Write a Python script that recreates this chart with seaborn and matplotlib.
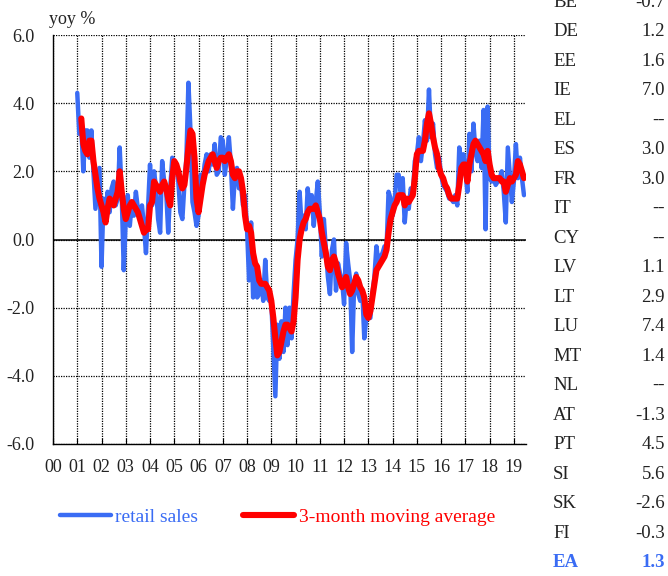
import numpy as np
import pandas as pd
import matplotlib
matplotlib.use("Agg")
import matplotlib.pyplot as plt
import seaborn as sns

# monthly retail sales, yoy %, Jan 2001 - Jun 2019
retail_sales = [
    4.3, 3.1, 3.3, 2.0, 3.2, 3.2, 2.4, 3.2, 2.0, 0.9, 1.5, 2.1,          # 2001
    -0.8, 1.2, 0.5, 1.4, 0.8, 1.5, 1.7, 1.0, 1.2, 2.7, 1.3, -0.9,        # 2002
    0.6, 1.3, 0.4, 1.1, 0.7, 1.4, 0.9, 0.6, 1.0, 0.4, -0.4, 0.9,         # 2003
    2.2, 1.0, 2.0, 1.5, 0.6, 0.2, 2.3, 1.7, 1.4, 0.2, 1.5, 2.4,          # 2004
    2.3, 2.2, 1.7, 0.8, 0.6, 1.6, 2.4, 4.6, 3.2, 1.1, 0.8, 0.4,          # 2005
    0.7, 1.9, 1.6, 2.2, 2.5, 2.0, 2.5, 2.2, 2.8, 1.9, 2.0, 3.0,          # 2006
    2.9, 1.9, 2.4, 3.0, 2.2, 0.9, 1.9, 2.1, 1.5, 1.6, 1.0, 1.3,          # 2007
    0.3, -1.2, 0.5, -1.7, -0.9, -1.7, -1.6, -1.2, -1.8, -0.6, -1.7, -1.8,  # 2008
    -1.8, -3.2, -4.6, -2.5, -3.5, -2.4, -3.3, -2.0, -3.1, -2.0, -2.9, -1.6,  # 2009
    -0.6, 0.0, 1.4, 0.4, 0.7, 0.3, 1.5, 0.9, 1.3, 0.4, 1.1, 1.7,         # 2010
    0.8, -0.5, 0.6, -0.3, -1.1, -1.6, -0.3, 0.0, -1.5, -0.7, -1.0, -1.2,  # 2011
    -1.9, -0.1, -0.7, -1.2, -3.3, -1.3, -1.0, -1.6, -1.8, -1.5, -2.9, -2.3,  # 2012
    -2.3, -2.3, -1.6, -1.1, -0.2, -0.7, -0.5, -0.4, -0.2, -0.3, 1.4, 1.2,  # 2013
    0.7, 1.1, 1.9, 1.9, 1.4, 1.8, 0.5, 1.2, 0.9, 1.5, 1.3, 2.3,          # 2014
    2.5, 3.0, 2.3, 2.8, 3.5, 2.9, 4.4, 3.0, 3.4, 2.5, 2.1, 2.4,          # 2015
    1.9, 1.6, 1.5, 1.4, 1.2, 1.2, 1.1, 1.3, 1.0, 2.7, 2.2, 2.5,          # 2016
    2.0, 1.4, 3.1, 2.0, 3.4, 2.6, 2.3, 2.9, 2.1, 3.8, 0.3, 3.9,          # 2017
    1.8, 1.7, 1.8, 1.6, 1.7, 1.8, 2.0, 1.4, 0.5, 2.7, 1.9, 1.1,          # 2018
    1.7, 2.8, 1.8, 2.4, 1.8, 1.3,                                        # 2019
]

# 3-month moving average, Mar 2001 - Jun 2019
moving_avg = [
    3.55, 2.8, 2.6, 2.5, 2.9, 2.9, 2.3, 1.9, 1.5, 1.2,                   # 2001
    1.0, 0.8, 0.5, 0.9, 1.2, 1.1, 1.0, 1.2, 1.4, 2.0, 1.4, 0.9,          # 2002
    0.6, 0.8, 1.0, 1.1, 1.0, 0.9, 0.8, 0.6, 0.4, 0.2, 0.3, 0.3,          # 2003
    1.0, 1.1, 1.7, 1.6, 1.5, 1.4, 1.6, 1.7, 1.5, 1.2, 1.0, 1.8,          # 2004
    2.3, 2.2, 2.0, 1.7, 1.5, 1.6, 2.1, 2.7, 3.2, 3.1, 2.4, 1.2,          # 2005
    0.8, 1.2, 1.6, 1.9, 2.1, 2.3, 2.4, 2.5, 2.3, 2.1, 2.3, 2.4,          # 2006
    2.4, 2.3, 2.4, 2.5, 2.3, 1.9, 1.8, 2.0, 2.0, 1.8, 1.4, 0.7,          # 2007
    0.3, 0.4, 0.2, -0.4, -0.7, -0.8, -1.2, -1.3, -1.3, -1.3, -1.4, -1.5,  # 2008
    -1.8, -2.3, -2.9, -3.4, -3.3, -3.0, -2.7, -2.5, -2.5, -2.6, -2.7, -2.4,  # 2009
    -1.7, -0.6, 0.0, 0.3, 0.5, 0.6, 0.8, 0.9, 0.9, 0.9, 1.0, 0.8,        # 2010
    0.6, 0.2, -0.1, -0.4, -0.8, -0.9, -0.6, -0.5, -0.7, -1.0, -1.2, -1.4,  # 2011
    -1.3, -1.1, -1.4, -1.6, -1.5, -1.3, -1.1, -1.2, -1.4, -1.5, -1.7, -2.2,  # 2012
    -2.3, -2.1, -1.7, -1.3, -0.9, -0.8, -0.7, -0.6, -0.5, -0.3, 0.2, 0.6,  # 2013
    0.8, 1.0, 1.1, 1.3, 1.3, 1.3, 1.0, 1.2, 1.1, 1.2, 1.3, 1.8,          # 2014
    2.5, 2.6, 2.6, 2.6, 2.9, 3.4, 3.7, 3.4, 3.0, 2.7, 2.5, 2.1,          # 2015
    1.9, 1.8, 1.6, 1.5, 1.3, 1.2, 1.2, 1.2, 1.2, 1.6, 2.1, 2.2,          # 2016
    2.2, 1.7, 2.2, 2.5, 2.8, 2.9, 2.8, 2.7, 2.6, 2.5, 2.3, 2.6,          # 2017
    2.2, 1.9, 1.8, 1.8, 1.8, 1.8, 1.7, 1.7, 1.4, 1.6, 1.8, 1.7,          # 2018
    1.8, 1.9, 2.3, 2.2, 2.0, 1.8,                                        # 2019
]

countries = ["BE", "DE", "EE", "IE", "EL", "ES", "FR", "IT", "CY", "LV",
             "LT", "LU", "MT", "NL", "AT", "PT", "SI", "SK", "FI", "EA"]
latest = ["-0.7", "1.2", "1.6", "7.0", "--", "3.0", "3.0", "--", "--", "1.1",
          "2.9", "7.4", "1.4", "--", "-1.3", "4.5", "5.6", "-2.6", "-0.3", "1.3"]

year_labels = ["%02d" % y for y in range(0, 20)]

BLUE = "#3a6cf4"
RED = "#ff0000"
TXT = "#222222"

dates_rs = pd.date_range("2001-01-01", periods=len(retail_sales), freq="MS")
dates_ma = pd.date_range("2001-03-01", periods=len(moving_avg), freq="MS")
df_rs = pd.DataFrame({"t": dates_rs.year + (dates_rs.month - 1) / 12, "v": retail_sales})
df_ma = pd.DataFrame({"t": dates_ma.year + (dates_ma.month - 1) / 12, "v": moving_avg})

sns.set_style("white")
plt.rcParams["font.family"] = ["Liberation Serif", "DejaVu Serif"]
plt.rcParams["axes.unicode_minus"] = False

fig = plt.figure(figsize=(6.68, 5.76), dpi=100)
ax = fig.add_axes([53 / 668, 132 / 576, 473 / 668, 409 / 576])

sns.lineplot(data=df_rs, x="t", y="v", ax=ax, color=BLUE, lw=3.2,
             label="retail sales", solid_capstyle="round")
sns.lineplot(data=df_ma, x="t", y="v", ax=ax, color=RED, lw=4.4,
             label="3-month moving average", solid_capstyle="round")

ax.set_xlim(2000, 2019.5)
ax.set_ylim(-6, 6)
ax.set_xticks(range(2000, 2020))
ax.set_xticklabels(year_labels)
ax.set_yticks(np.arange(-6, 7, 2))
ax.set_yticklabels(["%.1f" % v for v in np.arange(-6, 7, 2)])
ax.set_xlabel("")
ax.set_ylabel("")

ax.grid(True, linestyle=(0, (1, 1)), color="black", lw=0.9)
ax.axhline(0, color="black", lw=1.1, zorder=1.5)
ax.set_axisbelow(True)

for s in ["top", "right"]:
    ax.spines[s].set_visible(False)
ax.spines["left"].set_color("black")
ax.spines["left"].set_linewidth(1.0)
ax.spines["bottom"].set_color("black")
ax.spines["bottom"].set_linewidth(1.0)
ax.spines["bottom"].set_linestyle((0, (1, 1)))

ax.tick_params(axis="x", direction="in", length=4, width=0.8, color="black",
               pad=11, labelsize=13, labelcolor=TXT, bottom=True)
ax.tick_params(axis="y", length=0, pad=13, labelsize=13, labelcolor=TXT)

fig.text(49 / 668, 1 - 20 / 576, "yoy %", fontsize=13, color=TXT,
         ha="left", va="center")

leg = ax.legend(loc="center left", bbox_to_anchor=(60 / 668, 1 - 517 / 576),
                bbox_transform=fig.transFigure, frameon=False, ncol=2,
                fontsize=14, handlelength=2.6, handletextpad=0.25,
                columnspacing=2.3, borderpad=0, borderaxespad=0,
                labelcolor=[BLUE, RED])
for line in leg.get_lines():
    line.set_solid_capstyle("round")

# table of latest readings
for i, (c, v) in enumerate(zip(countries, latest)):
    y = 1 - (2.2 + i * 29.5) / 576
    is_ea = c == "EA"
    col = BLUE if is_ea else TXT
    wt = "bold" if is_ea else "normal"
    fig.text(553 / 668, y, c, fontsize=13.5, color=col, fontweight=wt,
             ha="left", va="center")
    fig.text(665 / 668, y, v, fontsize=13.5, color=col, fontweight=wt,
             ha="right", va="center")

fig.savefig("out.png", dpi=100)
